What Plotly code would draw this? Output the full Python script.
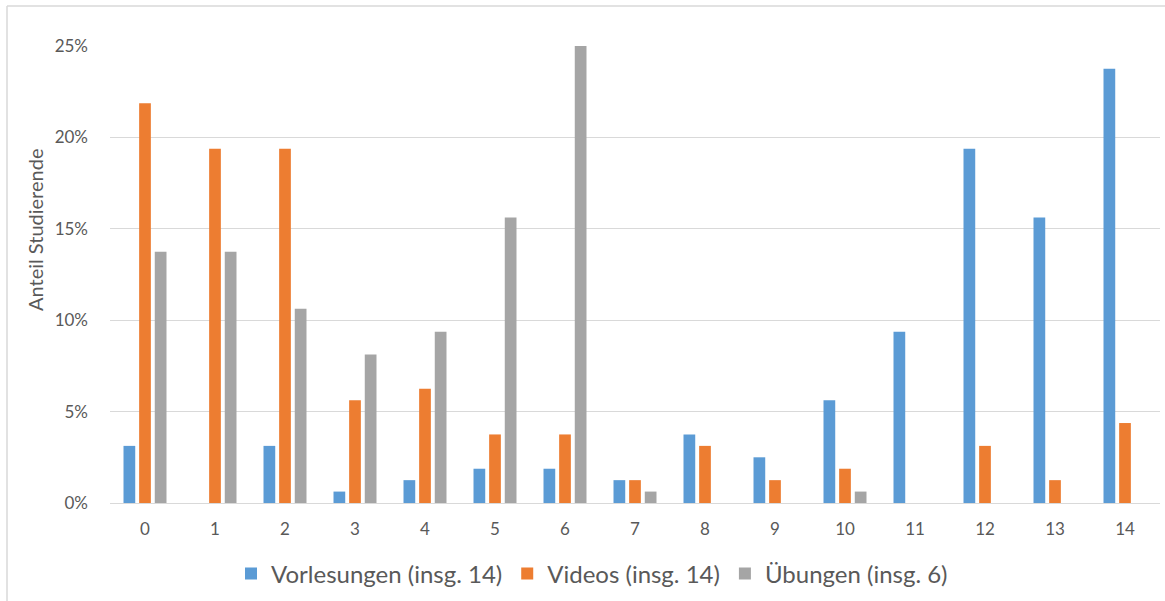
import plotly.graph_objects as go

# Number of sessions attended (0..14)
categories = [str(i) for i in range(15)]

# Share of students (%) per number of attended sessions
vorlesungen = [3.125, 0, 3.125, 0.625, 1.25, 1.875, 1.875, 1.25, 3.75, 2.5, 5.625, 9.375, 19.375, 15.625, 23.75]
videos = [21.875, 19.375, 19.375, 5.625, 6.25, 3.75, 3.75, 1.25, 3.125, 1.25, 1.875, 0, 3.125, 1.25, 4.375]
uebungen = [13.75, 13.75, 10.625, 8.125, 9.375, 15.625, 25.0, 0.625, 0, 0, 0.625, 0, 0, 0, 0]

series_names = ["Vorlesungen (insg. 14)", "Videos (insg. 14)", "Übungen (insg. 6)"]
series_colors = ["#5B9BD5", "#ED7D31", "#A5A5A5"]
y_ticks = [0, 5, 10, 15, 20, 25]
y_tick_labels = [f"{v}%" for v in y_ticks]

W, H = 1165, 601
L, R, T, B = 110, 5, 46, 98
plot_w = W - L - R
plot_h = H - T - B

text_color = "#595959"
font_family = "Lato, 'Open Sans', sans-serif"

fig = go.Figure()
for name, vals, col in zip(series_names, [vorlesungen, videos, uebungen], series_colors):
    fig.add_trace(go.Bar(x=categories, y=vals, name=name, marker=dict(color=col, line=dict(width=0))))

# Outer chart frame (top and left edges visible)
frame_x = (7 - L) / plot_w
frame_y = 1 + (T - 6) / plot_h
fig.add_shape(type="line", xref="paper", yref="paper", x0=frame_x, x1=1 + R / plot_w + 0.01,
              y0=frame_y, y1=frame_y, line=dict(color="#D9D9D9", width=1.5))
fig.add_shape(type="line", xref="paper", yref="paper", x0=frame_x, x1=frame_x,
              y0=frame_y, y1=-(B + 5) / plot_h, line=dict(color="#D9D9D9", width=1.5))

fig.add_annotation(text="Anteil Studierende", xref="paper", yref="paper",
                   x=(35 - L) / plot_w, y=(503 - 230) / plot_h, textangle=-90,
                   xanchor="center", yanchor="middle",
                   showarrow=False, font=dict(size=20, color=text_color, family=font_family))

fig.update_layout(
    width=W, height=H,
    margin=dict(l=L, r=R, t=T, b=B),
    paper_bgcolor="white", plot_bgcolor="white",
    barmode="group", bargap=0.33, bargroupgap=0.25,
    font=dict(family=font_family, color=text_color, size=17),
    showlegend=True,
    legend=dict(orientation="h", xanchor="center", yanchor="middle",
                x=(592 - L) / plot_w, y=(T + plot_h - 574) / plot_h,
                font=dict(size=24, color=text_color), itemwidth=30,
                traceorder="normal"),
)
fig.update_xaxes(type="category", showgrid=False, showline=False, ticks="",
                 tickfont=dict(size=17, color=text_color), range=[-0.5, 14.5],
                 ticklabelstandoff=14)
fig.update_yaxes(range=[0, 25], tickvals=y_ticks, ticktext=y_tick_labels, showgrid=True,
                 gridcolor="#D9D9D9", gridwidth=1, zeroline=True, zerolinecolor="#D9D9D9",
                 zerolinewidth=1, showline=False, ticks="",
                 tickfont=dict(size=17, color=text_color), ticklabelstandoff=21)

fig.write_html("out.html")
